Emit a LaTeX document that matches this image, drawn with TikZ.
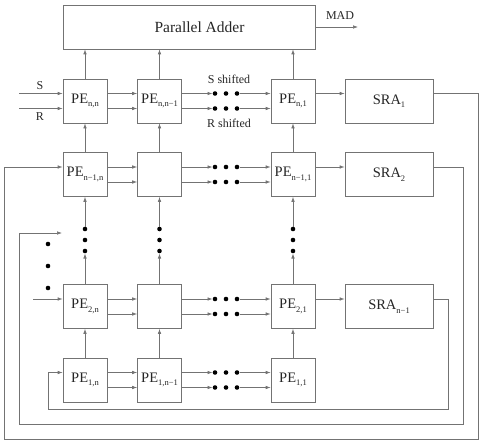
\documentclass[tikz,border=0pt]{standalone}
\usepackage{fontspec}
\setmainfont{Liberation Serif}
\usetikzlibrary{arrows.meta,calc}
\newcommand\lowsub[1]{\raisebox{-3.6pt}{\fontsize{8.5}{9}\selectfont #1}}
\begin{document}
\begin{tikzpicture}[x=1pt,y=-1pt,
  ln/.style={draw=black!55, line width=0.7pt},
  arr/.style={ln, -{Latex[length=5pt,width=3.6pt]}},
  box/.style={draw=black!55, line width=0.7pt, minimum width=44pt, minimum height=44pt, inner sep=0pt, font=\fontsize{14.5}{16}\selectfont, text=black!85},
  sra/.style={box, minimum width=88pt},
  dot/.style={circle, fill=black, inner sep=0pt, minimum size=4.6pt},
  lbl/.style={font=\fontsize{12}{13}\selectfont, text=black!85, inner sep=0pt}]
\useasboundingbox (0,0) rectangle (482,444);
% boxes
\node[box, minimum width=252pt, font=\fontsize{15.5}{17}\selectfont] (add) at (189,27) {\hspace*{21pt}Parallel Adder};
\node[box] (p11) at (85,101) {PE\lowsub{n,n}};
\node[box] (p12) at (159.5,101) {PE\lowsub{n,n−1}};
\node[box] (p13) at (293,101) {PE\lowsub{n,1}};
\node[sra] (s1) at (389,101) {SRA\lowsub{1}};
\node[box] (p21) at (85,174.5) {PE\lowsub{n−1,n}};
\node[box] (p22) at (159.5,174.5) {};
\node[box] (p23) at (293,174.5) {PE\lowsub{n−1,1}};
\node[sra] (s2) at (389,174.5) {SRA\lowsub{2}};
\node[box] (p31) at (85,306.5) {PE\lowsub{2,n}};
\node[box] (p32) at (159.5,306.5) {};
\node[box] (p33) at (293,306.5) {PE\lowsub{2,1}};
\node[sra] (s3) at (389,306.5) {SRA\lowsub{n−1}};
\node[box] (p41) at (85,380) {PE\lowsub{1,n}};
\node[box] (p42) at (159.5,380) {PE\lowsub{1,n−1}};
\node[box] (p43) at (293,380) {PE\lowsub{1,1}};
% horizontal data paths with dots
\foreach \r/\y in {1/101,2/174.5,3/306.5,4/380} {
  \foreach \u/\dy in {u/-7.5,l/7.5} {
    \node[dot] (d\r\u a) at (215,\y+\dy) {};
    \node[dot] (d\r\u b) at (226,\y+\dy) {};
    \node[dot] (d\r\u c) at (237,\y+\dy) {};
    \draw[arr] (p\r1.east |- d\r\u a) -- (p\r2.west |- d\r\u a);
    \draw[arr] (p\r2.east |- d\r\u a) -- (d\r\u a);
    \draw[arr] (d\r\u c) -- (p\r3.west |- d\r\u c);
  }
}
% to SRAs
\draw[arr] (p13.east |- d1ua) -- (s1.west |- d1ua);
\draw[arr] (p23.east |- d2ua) -- (s2.west |- d2ua);
\draw[arr] (p33.east |- d3ua) -- (s3.west |- d3ua);
% vertical paths
\foreach \c in {1,2,3} {
  \draw[arr] (p1\c.north) -- (p1\c.north |- add.south);
  \draw[arr] (p2\c.north) -- (p1\c.south);
  \node[dot] (v\c a) at (p2\c.south |- 0,229) {};
  \node[dot] (v\c b) at (p2\c.south |- 0,240) {};
  \node[dot] (v\c c) at (p2\c.south |- 0,251) {};
  \draw[arr] (p3\c.north) -- (v\c c);
  \draw[arr] (v\c a) -- (p2\c.south);
  \draw[arr] (p4\c.north) -- (p3\c.south);
}
% left dots
\node[dot] (l1) at (48,244) {};
\node[dot] (l2) at (48,266) {};
\node[dot] (l3) at (48,288) {};
% inputs
\coordinate (sIn) at (19,93.5);
\coordinate (rIn) at (19,108.5);
\draw[arr] (sIn) -- (p11.west |- sIn);
\draw[arr] (rIn) -- (p11.west |- rIn);
\node[lbl] (sl) at (40,86) {S};
\node[lbl] (rl) at (40,117) {R};
\node[lbl] (ssh) at (229,79) {S shifted};
\node[lbl] (rsh) at (229,123) {R shifted};
\coordinate (in3) at (33,299);
\draw[arr] (in3) -- (p31.west |- in3);
% output
\coordinate (mad) at (358,27);
\draw[arr] (add.east) -- (mad);
\node[lbl] (madl) at (340,16) {MAD};
% feedback loops
\coordinate (k1) at (478,439);
\coordinate (k2) at (4,439);
\draw[arr] (s1.east |- d1ua) -| (k1) -- (k2) |- (p21.west |- d2ua);
\coordinate (k3) at (463,424);
\coordinate (k4) at (19,424);
\coordinate (k5) at (62,233);
\draw[arr] (s2.east |- d2ua) -| (k3) -- (k4) |- (k5);
\coordinate (k6) at (448,409);
\coordinate (k7) at (48,409);
\draw[arr] (s3.east |- d3ua) -| (k6) -- (k7) |- (p41.west |- d4ua);
\end{tikzpicture}
\end{document}
